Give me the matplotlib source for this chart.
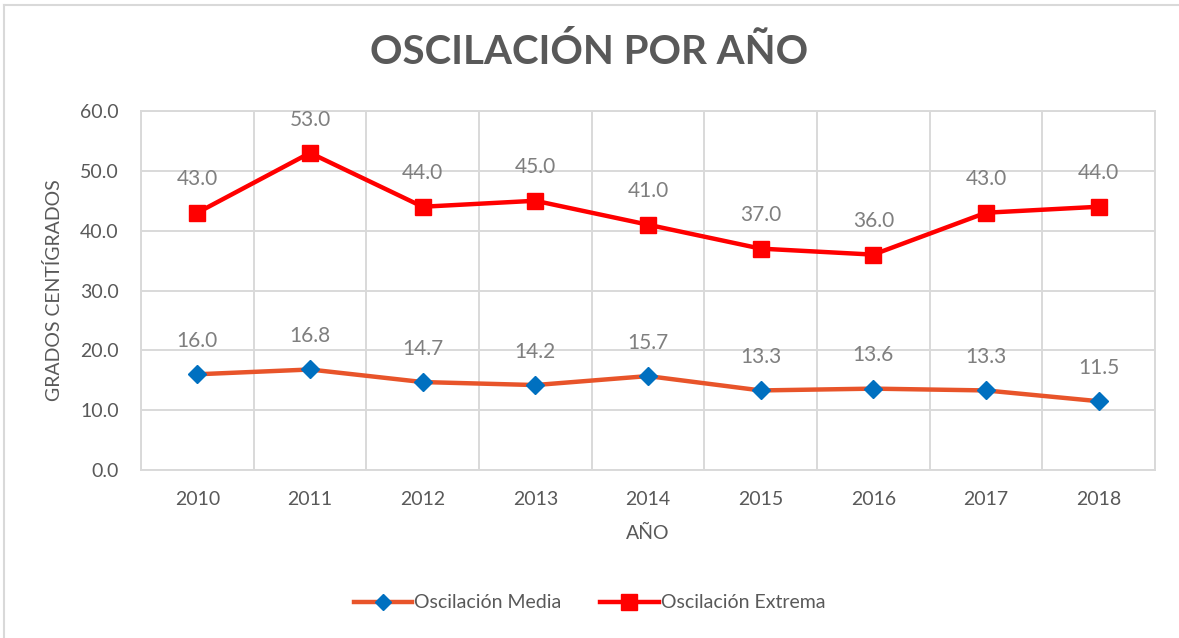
import numpy as np
import matplotlib.pyplot as plt
from matplotlib.lines import Line2D

plt.rcParams['font.family'] = ['Lato', 'DejaVu Sans']

# Datos
annos = ['2010', '2011', '2012', '2013', '2014', '2015', '2016', '2017', '2018']
osc_media = [16.0, 16.8, 14.7, 14.2, 15.7, 13.3, 13.6, 13.3, 11.5]
osc_extrema = [43.0, 53.0, 44.0, 45.0, 41.0, 37.0, 36.0, 43.0, 44.0]

gris_texto = '#595959'
gris_etiqueta = '#7F7F7F'
gris_rejilla = '#D9D9D9'

fig = plt.figure(figsize=(11.79, 6.38), dpi=100)
ax = fig.add_axes([0.1196, 0.2633, 0.86, 0.5627])

x = np.arange(len(annos))
ax.plot(x, osc_media, color='#E8542A', linewidth=3.2, marker='D', markersize=9,
        markerfacecolor='#0070C0', markeredgecolor='#0070C0', label='Oscilación Media', zorder=3)
ax.plot(x, osc_extrema, color='#FF0000', linewidth=3.2, marker='s', markersize=12,
        markerfacecolor='#FF0000', markeredgecolor='#FF0000', label='Oscilación Extrema', zorder=3)

# Etiquetas de datos
for xi, v in zip(x, osc_media):
    ax.annotate(f'{v:.1f}', (xi, v), xytext=(0, 24), textcoords='offset points',
                ha='center', va='center', fontsize=15, color=gris_etiqueta)
for xi, v in zip(x, osc_extrema):
    ax.annotate(f'{v:.1f}', (xi, v), xytext=(0, 24), textcoords='offset points',
                ha='center', va='center', fontsize=15, color=gris_etiqueta)

ax.set_xlim(-0.5, len(annos) - 0.5)
ax.set_ylim(0, 60)
ax.set_yticks(np.arange(0, 61, 10))
ax.set_yticklabels([f'{v:.1f}' for v in np.arange(0, 61, 10)])
ax.set_xticks(x)
ax.set_xticklabels(annos)
ax.set_xticks(np.arange(-0.5, len(annos), 1), minor=True)

ax.grid(True, axis='y', which='major', color=gris_rejilla, linewidth=1.4)
ax.grid(True, axis='x', which='minor', color=gris_rejilla, linewidth=1.4)
ax.set_axisbelow(True)
for s in ax.spines.values():
    s.set_color(gris_rejilla)
    s.set_linewidth(1.4)

ax.tick_params(axis='both', which='both', length=0, colors=gris_texto, labelsize=14)
ax.tick_params(axis='x', pad=15)
ax.tick_params(axis='y', pad=16)

ax.set_xlabel('AÑO', fontsize=14, color=gris_texto, labelpad=12)
ax.set_ylabel('GRADOS CENTÍGRADOS', fontsize=14, color=gris_texto, labelpad=12)

fig.text(0.5, 0.918, 'OSCILACIÓN POR AÑO', ha='center', va='center',
         fontsize=29, fontweight='bold', color=gris_texto)

handles = [
    Line2D([0], [0], color='#E8542A', linewidth=3.2, marker='D', markersize=8,
           markerfacecolor='#0070C0', markeredgecolor='#0070C0'),
    Line2D([0], [0], color='#FF0000', linewidth=3.2, marker='s', markersize=11,
           markerfacecolor='#FF0000', markeredgecolor='#FF0000'),
]
fig.legend(handles, ['Oscilación Media', 'Oscilación Extrema'], loc='center',
           bbox_to_anchor=(0.5, 0.055), ncol=2, frameon=False, fontsize=14,
           labelcolor=gris_texto, handlelength=3.0, handletextpad=0.1, columnspacing=2.0)

# borde del área del gráfico (arriba e izquierda)
fig.add_artist(Line2D([0.003, 1.0], [0.992, 0.992], color=gris_rejilla, linewidth=1.5,
                      transform=fig.transFigure))
fig.add_artist(Line2D([0.003, 0.003], [0.0, 0.992], color=gris_rejilla, linewidth=1.5,
                      transform=fig.transFigure))

fig.savefig('out.png', dpi=100)
